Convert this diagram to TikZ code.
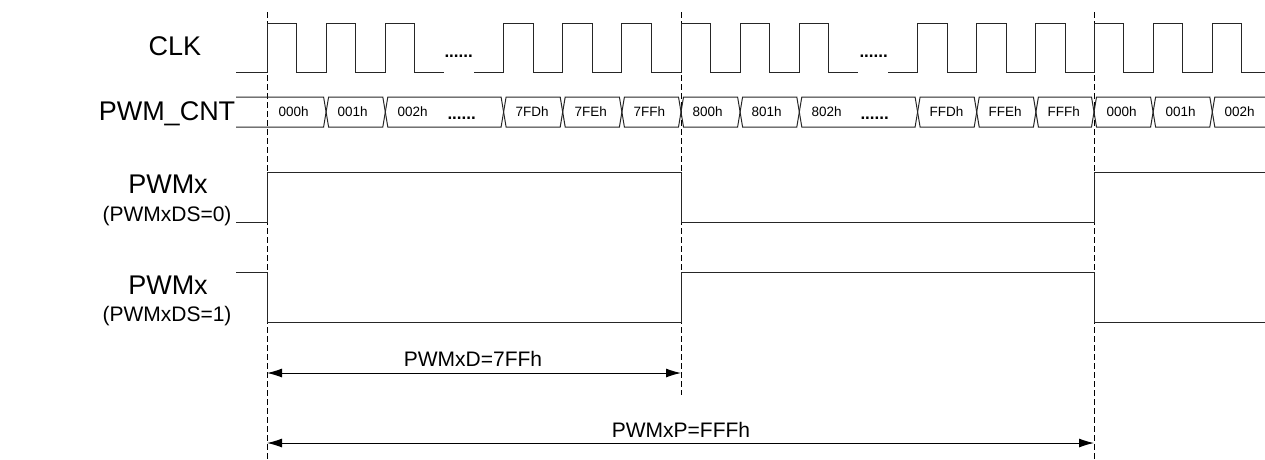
\documentclass[tikz,border=0pt]{standalone}
\usepackage{fontspec}
\setmainfont{Liberation Sans}
\usetikzlibrary{arrows.meta}

\begin{document}
\begin{tikzpicture}[x=1pt, y=-1pt, line width=1pt,
        sig/.style = {draw=black!85, line join=miter},
        guide/.style = {draw=black, line width=0.8pt, dash pattern=on 6pt off 3pt},
        dim/.style = {draw=black, {Latex[length=15pt,width=9pt]}-{Latex[length=15pt,width=9pt]}},
        big/.style = {inner sep=0pt, anchor=base, font=\fontsize{27}{30}\selectfont},
        small/.style = {inner sep=0pt, anchor=base, font=\fontsize{21}{24}\selectfont},
        cnt/.style = {inner sep=0pt, anchor=west, font=\fontsize{13.5}{15}\selectfont},
        dots/.style = {inner sep=0pt, anchor=base west, font=\fontsize{17}{18}\selectfont\bfseries}]
        \useasboundingbox (0,0) rectangle (1265,459);

        % guide lines
        \coordinate (g0t) at (267,12);   \coordinate (g0b) at (267,459);
        \coordinate (g1t) at (681,12);   \coordinate (g1b) at (681,395);
        \coordinate (g2t) at (1094,12);  \coordinate (g2b) at (1094,459);
        \draw[guide] (g0t) -- (g0b);
        \draw[guide] (g1t) -- (g1b);
        \draw[guide] (g2t) -- (g2b);

        % signal names
        \node[big] (clk) at (175,55) {CLK};
        \node[big] (cnt) at (167,120.7) {PWM\_CNT};
        \node[big] (pwm0) at (168,193.3) {PWMx};
        \node[small] (ds0) at (167,221.7) {(PWMxDS=0)};
        \node[big] (pwm1) at (168,294) {PWMx};
        \node[small] (ds1) at (167,321.7) {(PWMxDS=1)};

        % CLK
        \draw[sig] (236,72) -- (267,72) -- (267,23) -- (296.6,23) -- (296.6,72) -- (326.1,72) -- (326.1,23) -- (355.7,23) -- (355.7,72) -- (385.3,72) -- (385.3,23) -- (414.9,23) -- (414.9,72) -- (444,72);
        \draw[sig] (474,72) -- (503.6,72) -- (503.6,23) -- (533.1,23) -- (533.1,72) -- (562.7,72) -- (562.7,23) -- (592.3,23) -- (592.3,72) -- (621.9,72) -- (621.9,23) -- (651.4,23) -- (651.4,72) -- (681,72) -- (681,23) -- (710.6,23) -- (710.6,72) -- (740.1,72) -- (740.1,23) -- (769.7,23) -- (769.7,72) -- (799.3,72) -- (799.3,23) -- (828.9,23) -- (828.9,72) -- (858.4,72);
        \draw[sig] (888,72) -- (917.6,72) -- (917.6,23) -- (947.1,23) -- (947.1,72) -- (976.7,72) -- (976.7,23) -- (1006.3,23) -- (1006.3,72) -- (1035.9,72) -- (1035.9,23) -- (1065.4,23) -- (1065.4,72) -- (1094,72) -- (1094,23) -- (1123.6,23) -- (1123.6,72) -- (1153.1,72) -- (1153.1,23) -- (1182.7,23) -- (1182.7,72) -- (1212.3,72) -- (1212.3,23) -- (1241.8,23) -- (1241.8,72) -- (1265,72);
        \node[dots] (clkdots0) at (444,57) {......};
        \node[dots] (clkdots1) at (859,57) {......};

        % PWM_CNT bus
        \draw[sig] (236,97) -- (323.6,97) -- (328.6,127) -- (382.8,127) -- (387.8,97) -- (501.1,97) -- (506.1,127) -- (560.2,127) -- (565.2,97) -- (619.4,97) -- (624.4,127) -- (678.5,127) -- (683.5,97) -- (737.6,97) -- (742.6,127) -- (796.8,127) -- (801.8,97) -- (915.1,97) -- (920.1,127) -- (974.2,127) -- (979.2,97) -- (1033.4,97) -- (1038.4,127) -- (1091.5,127) -- (1096.5,97) -- (1150.6,97) -- (1155.6,127) -- (1209.8,127) -- (1214.8,97) -- (1265,97);
        \draw[sig] (236,127) -- (323.6,127) -- (328.6,97) -- (382.8,97) -- (387.8,127) -- (501.1,127) -- (506.1,97) -- (560.2,97) -- (565.2,127) -- (619.4,127) -- (624.4,97) -- (678.5,97) -- (683.5,127) -- (737.6,127) -- (742.6,97) -- (796.8,97) -- (801.8,127) -- (915.1,127) -- (920.1,97) -- (974.2,97) -- (979.2,127) -- (1033.4,127) -- (1038.4,97) -- (1091.5,97) -- (1096.5,127) -- (1150.6,127) -- (1155.6,97) -- (1209.8,97) -- (1214.8,127) -- (1265,127);
        \node[cnt] (v000a) at (278,112) {000h};
        \node[cnt] (v001a) at (337,112) {001h};
        \node[cnt] (v002a) at (397,112) {002h};
        \node[dots] (cntdots0) at (447,119) {......};
        \node[cnt] (v7FD) at (515,112) {7FDh};
        \node[cnt] (v7FE) at (574,112) {7FEh};
        \node[cnt] (v7FF) at (633,112) {7FFh};
        \node[cnt] (v800) at (692,112) {800h};
        \node[cnt] (v801) at (751,112) {801h};
        \node[cnt] (v802) at (811,112) {802h};
        \node[dots] (cntdots1) at (860,119) {......};
        \node[cnt] (vFFD) at (929,112) {FFDh};
        \node[cnt] (vFFE) at (988,112) {FFEh};
        \node[cnt] (vFFF) at (1047,112) {FFFh};
        \node[cnt] (v000b) at (1106,112) {000h};
        \node[cnt] (v001b) at (1165,112) {001h};
        \node[cnt] (v002b) at (1224,112) {002h};

        % PWMx outputs
        \draw[sig] (236,222) -- (267,222) -- (267,172.5) -- (681,172.5) -- (681,222) -- (1094,222) -- (1094,172.5) -- (1265,172.5);
        \draw[sig] (236,272.5) -- (267,272.5) -- (267,322.5) -- (681,322.5) -- (681,272.5) -- (1094,272.5) -- (1094,322.5) -- (1265,322.5);

        % duty and period
        \coordinate (d0) at (267,373);  \coordinate (d1) at (681,373);
        \coordinate (p0) at (267,443);  \coordinate (p1) at (1094,443);
        \draw[dim] (d0) -- (d1);
        \draw[dim] (p0) -- (p1);
        \node[small] (duty) at (473,366.7) {PWMxD=7FFh};
        \node[small] (period) at (681,437) {PWMxP=FFFh};

    \end{tikzpicture}
\end{document}
